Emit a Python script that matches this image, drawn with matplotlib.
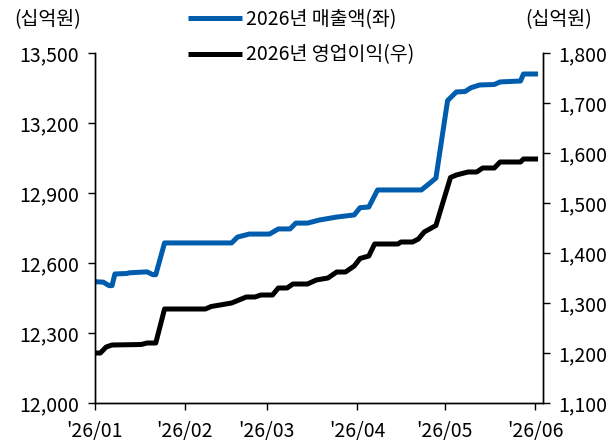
import matplotlib
matplotlib.use("Agg")
import matplotlib.pyplot as plt
import matplotlib.dates as mdates
import pandas as pd

plt.rcParams['font.family'] = ['Noto Sans CJK KR', 'DejaVu Sans']

rev_dates = ["2026-01-01", "2026-01-04", "2026-01-06", "2026-01-07", "2026-01-08", "2026-01-12",
             "2026-01-13", "2026-01-19", "2026-01-21", "2026-01-22", "2026-01-25", "2026-02-17",
             "2026-02-19", "2026-02-23", "2026-03-02", "2026-03-05", "2026-03-09", "2026-03-11",
             "2026-03-15", "2026-03-19", "2026-03-25", "2026-03-31", "2026-04-02", "2026-04-05",
             "2026-04-08", "2026-04-23", "2026-04-26", "2026-04-28", "2026-05-02", "2026-05-05",
             "2026-05-08", "2026-05-10", "2026-05-13", "2026-05-18", "2026-05-20", "2026-05-27",
             "2026-05-28", "2026-06-02"]
rev_values = [12520, 12518, 12503, 12503, 12553, 12555,
              12558, 12562, 12550, 12550, 12686, 12686,
              12711, 12724, 12724, 12746, 12746, 12771,
              12771, 12784, 12797, 12806, 12837, 12840,
              12913, 12913, 12943, 12964, 13296, 13333,
              13335, 13351, 13363, 13365, 13376, 13380,
              13410, 13410]

op_dates = ["2026-01-01", "2026-01-03", "2026-01-05", "2026-01-07", "2026-01-17", "2026-01-19",
            "2026-01-22", "2026-01-25", "2026-02-08", "2026-02-10", "2026-02-17", "2026-02-22",
            "2026-02-25", "2026-02-27", "2026-03-03", "2026-03-05", "2026-03-08", "2026-03-10",
            "2026-03-15", "2026-03-18", "2026-03-22", "2026-03-25", "2026-03-28", "2026-03-31",
            "2026-04-02", "2026-04-05", "2026-04-07", "2026-04-15", "2026-04-16", "2026-04-20",
            "2026-04-22", "2026-04-24", "2026-04-28", "2026-05-03", "2026-05-05", "2026-05-09",
            "2026-05-12", "2026-05-14", "2026-05-18", "2026-05-20", "2026-05-27", "2026-05-28",
            "2026-06-02"]
op_values = [1200, 1200, 1212, 1216, 1217, 1220,
             1220, 1288, 1288, 1293, 1300, 1312,
             1312, 1316, 1316, 1330, 1330, 1338,
             1338, 1346, 1350, 1362, 1362, 1374,
             1389, 1394, 1418, 1418, 1422, 1422,
             1428, 1442, 1455, 1551, 1556, 1562,
             1562, 1570, 1570, 1582, 1582, 1588,
             1588]

left_ticks = [12000, 12300, 12600, 12900, 13200, 13500]
right_ticks = [1100, 1200, 1300, 1400, 1500, 1600, 1700, 1800]
month_ticks = ["2026-01-01", "2026-02-01", "2026-03-01", "2026-04-01", "2026-05-01", "2026-06-01"]
month_labels = ["'26/01", "'26/02", "'26/03", "'26/04", "'26/05", "'26/06"]
legend_labels = ["2026년 매출액(좌)", "2026년 영업이익(우)"]
unit_label = "(십억원)"

blue = "#005DAD"
fs = 14

fig = plt.figure(figsize=(6.14, 4.45), dpi=100)
ax = fig.add_axes([94.5 / 614, 1 - 403 / 445, (543 - 94.5) / 614, 350 / 445])
ax2 = ax.twinx()

rd = pd.to_datetime(rev_dates)
od = pd.to_datetime(op_dates)
l1, = ax.plot(rd, rev_values, color=blue, lw=3.6, solid_joinstyle='round', solid_capstyle='butt')
l2, = ax2.plot(od, op_values, color='black', lw=3.6, solid_joinstyle='round', solid_capstyle='butt')

ax.set_ylim(12000, 13500)
ax2.set_ylim(1100, 1800)
ax.set_yticks(left_ticks)
ax.set_yticklabels([f"{v:,}" for v in left_ticks])
ax2.set_yticks(right_ticks)
ax2.set_yticklabels([f"{v:,}" for v in right_ticks])
ax.set_xlim(pd.Timestamp("2026-01-01"), pd.Timestamp("2026-01-01") + pd.Timedelta(days=153.7))
ax.set_xticks(pd.to_datetime(month_ticks))
ax.set_xticklabels(month_labels)

for a in (ax, ax2):
    a.spines['top'].set_visible(False)
    for s in a.spines.values():
        s.set_linewidth(1.0)
        s.set_color('black')
    a.tick_params(direction='out', length=5, width=1.0, labelsize=fs, colors='black')
ax.tick_params(axis='y', pad=6)
ax2.tick_params(axis='y', pad=6)
ax.tick_params(axis='x', pad=8)

fig.text(48 / 614, 1 - 20 / 445, unit_label, ha='center', va='center', fontsize=fs)
fig.text(559 / 614, 1 - 20 / 445, unit_label, ha='center', va='center', fontsize=fs)

leg = fig.legend([l1, l2], legend_labels, loc='upper left',
                 bbox_to_anchor=(180 / 614, 1 - 1 / 445), frameon=False, fontsize=fs,
                 handlelength=2.8, handletextpad=0.2, labelspacing=0.75, borderaxespad=0)
for h in leg.get_lines():
    h.set_linewidth(3.6)

fig.savefig("out.png", dpi=100)
